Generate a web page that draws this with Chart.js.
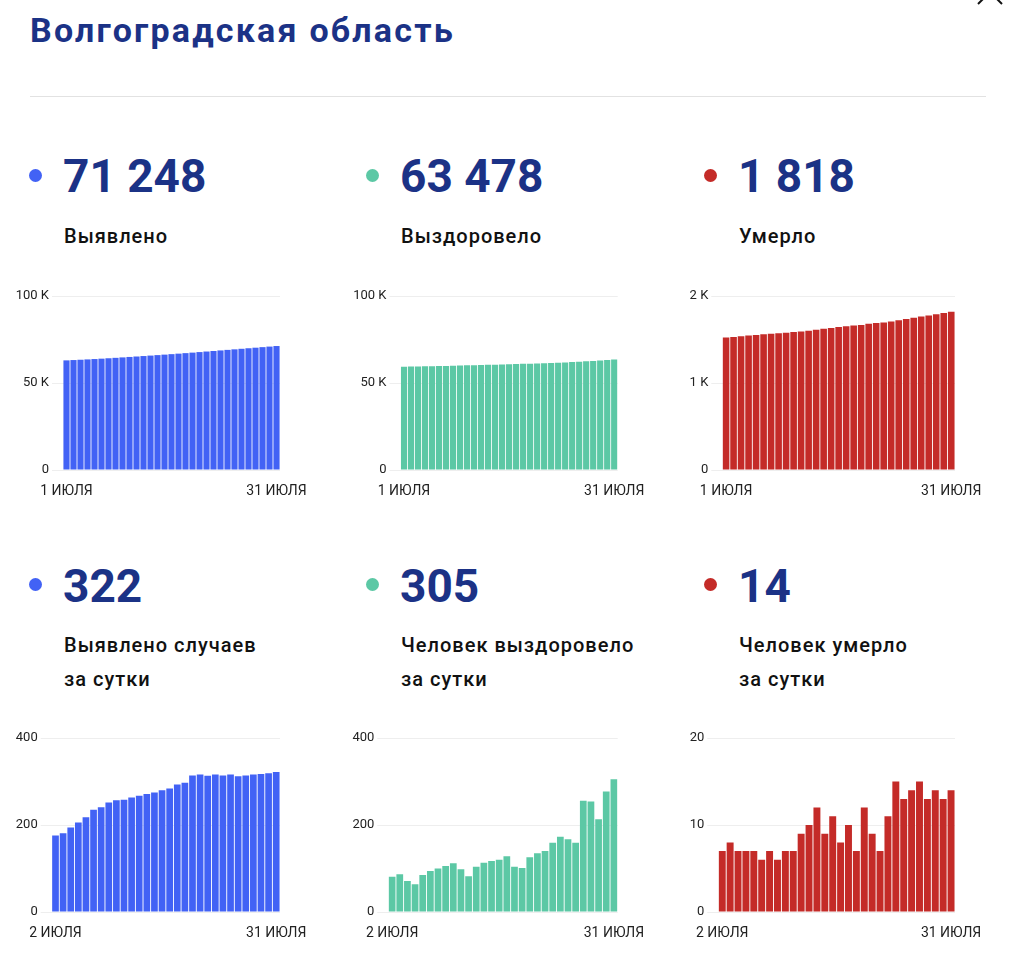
<!DOCTYPE html>
<html lang="ru">
<head>
<meta charset="utf-8">
<title>Волгоградская область</title>
<script src="https://cdn.jsdelivr.net/npm/chart.js@4.4.0/dist/chart.umd.min.js"></script>
<style>
  html, body { margin: 0; padding: 0; background: #fff; }
  body { width: 1023px; height: 959px; position: relative; overflow: hidden; font-family: Roboto, sans-serif; }
  .abs { position: absolute; line-height: 1; white-space: nowrap; }
  .title { left: 30px; top: 13px; font-size: 34px; font-weight: 700; color: #1b3286; letter-spacing: 2.2px; }
  .rule { position: absolute; left: 30px; top: 96px; width: 956px; height: 1px; background: #e2e2e2; }
  .num { font-size: 46px; font-weight: 700; color: #1b3286; }
  .lbl { font-size: 20px; font-weight: 500; color: #111; line-height: 33.7px; letter-spacing: 1px; }
  .dot { position: absolute; width: 13px; height: 13px; border-radius: 50%; }
  canvas { position: absolute; }
</style>
</head>
<body>
<div class="abs title">Волгоградская область</div>
<svg style="position:absolute;left:970px;top:0" width="40" height="10">
  <line x1="8" y1="-20" x2="32" y2="4" stroke="#111" stroke-width="2"/>
  <line x1="32" y1="-20" x2="8" y2="4" stroke="#111" stroke-width="2"/>
</svg>
<div class="rule"></div>

<div class="dot" style="left:29px;top:169px;background:#4262f5"></div>
<div class="abs num" style="left:63px;top:153px">71 248</div>
<div class="abs lbl" style="left:64px;top:220px">Выявлено</div>

<div class="dot" style="left:366px;top:169px;background:#5cc8a5"></div>
<div class="abs num" style="left:400px;top:153px">63 478</div>
<div class="abs lbl" style="left:401px;top:220px">Выздоровело</div>

<div class="dot" style="left:704px;top:169px;background:#c42b28"></div>
<div class="abs num" style="left:738px;top:153px">1 818</div>
<div class="abs lbl" style="left:739px;top:220px">Умерло</div>

<div class="dot" style="left:29px;top:578px;background:#4262f5"></div>
<div class="abs num" style="left:63px;top:563px">322</div>
<div class="abs lbl" style="left:64px;top:629px">Выявлено случаев<br>за сутки</div>

<div class="dot" style="left:366px;top:578px;background:#5cc8a5"></div>
<div class="abs num" style="left:400px;top:563px">305</div>
<div class="abs lbl" style="left:401px;top:629px">Человек выздоровело<br>за сутки</div>

<div class="dot" style="left:704px;top:578px;background:#c42b28"></div>
<div class="abs num" style="left:738px;top:563px">14</div>
<div class="abs lbl" style="left:739px;top:629px">Человек умерло<br>за сутки</div>

<canvas id="cTotal" width="310" height="230" style="left:0px;top:280px"></canvas>
<canvas id="cRecTotal" width="310" height="230" style="left:340px;top:280px"></canvas>
<canvas id="cDeadTotal" width="310" height="230" style="left:680px;top:280px"></canvas>
<canvas id="cDaily" width="310" height="232" style="left:0px;top:720px"></canvas>
<canvas id="cRecDaily" width="310" height="232" style="left:340px;top:720px"></canvas>
<canvas id="cDeadDaily" width="310" height="232" style="left:680px;top:720px"></canvas>

<script>
// дни июля
var daysAll = [1,2,3,4,5,6,7,8,9,10,11,12,13,14,15,16,17,18,19,20,21,22,23,24,25,26,27,28,29,30,31];
var daysFrom2 = [2,3,4,5,6,7,8,9,10,11,12,13,14,15,16,17,18,19,20,21,22,23,24,25,26,27,28,29,30,31];
var monthName = 'ИЮЛЯ';

// накопленные значения
var casesTotal = [63011,63187,63368,63562,63768,63986,64221,64462,64714,64971,65229,65492,65759,66030,66305,66585,
  66869,67162,67459,67773,68089,68402,68718,69032,69348,69660,69974,70290,70607,70926,71248];
var recoveredTotal = [59347,59428,59515,59586,59650,59735,59829,59929,60035,60147,60245,60327,60431,60544,60661,60781,
  60909,61013,61114,61240,61375,61515,61674,61847,62014,62173,62429,62683,62896,63173,63478];
var deathsTotal = [1523,1530,1538,1545,1552,1559,1565,1572,1578,1585,1592,1601,1611,1623,1632,1643,
  1651,1661,1668,1680,1689,1696,1707,1722,1735,1749,1764,1777,1791,1804,1818];

// за сутки
var casesDaily = [176,181,194,206,218,235,241,252,257,258,263,267,271,275,280,284,293,297,314,316,
  313,316,314,316,312,314,316,317,319,322];
var recoveredDaily = [81,87,71,64,85,94,100,106,112,98,82,104,113,117,120,128,104,101,126,135,
  140,159,173,167,159,256,254,213,277,305];
var deathsDaily = [7,8,7,7,7,6,7,6,7,7,9,10,12,9,11,8,10,7,12,9,7,11,15,13,14,15,13,14,13,14];

// подписи оси Y
var ticksBig = ['0', '50 K', '100 K'];
var ticksDeaths = ['0', '1 K', '2 K'];
var ticksDaily = ['0', '200', '400'];
var ticksDeathsDaily = ['0', '10', '20'];

var BLUE = '#4262f5';
var GREEN = '#5cc8a5';
var RED = '#c42b28';

Chart.defaults.font.family = 'Roboto, sans-serif';
Chart.defaults.color = '#222';

function makeChart(id, days, values, color, maxY, tickLabels, yWidth, padTop, padRight) {
  var step = maxY / 2;
  new Chart(document.getElementById(id), {
    type: 'bar',
    data: {
      labels: days,
      datasets: [{
        data: values,
        backgroundColor: color,
        borderWidth: 0,
        barPercentage: 0.88,
        categoryPercentage: 1
      }]
    },
    options: {
      responsive: false,
      animation: false,
      layout: { padding: { top: padTop, right: padRight, left: 0, bottom: 0 } },
      plugins: { legend: { display: false }, tooltip: { enabled: false } },
      scales: {
        x: {
          grid: { display: false, drawTicks: false },
          border: { display: false },
          ticks: {
            autoSkip: false,
            maxRotation: 0,
            padding: 13,
            color: '#222',
            font: { size: 14 },
            callback: function (v, i) {
              if (i === 0 || i === days.length - 1) return days[i] + ' ' + monthName;
              return null;
            }
          },
          afterFit: function (s) { s.height = 40; s.paddingLeft = 0; s.paddingRight = 0; }
        },
        y: {
          min: 0,
          max: maxY,
          grid: { color: '#eeeeee', tickLength: 11, lineWidth: 1 },
          border: { display: false },
          ticks: {
            stepSize: step,
            padding: 3,
            color: '#222',
            font: { size: 13 },
            callback: function (v) { return tickLabels[Math.round(v / step)]; }
          },
          afterFit: function (s) { s.width = yWidth; s.paddingTop = 0; s.paddingBottom = 0; }
        }
      }
    }
  });
}

makeChart('cTotal', daysAll, casesTotal, BLUE, 100000, ticksBig, 63, 16, 30);
makeChart('cRecTotal', daysAll, recoveredTotal, GREEN, 100000, ticksBig, 60.5, 16, 32.3);
makeChart('cDeadTotal', daysAll, deathsTotal, RED, 2000, ticksDeaths, 42.3, 16, 35);
makeChart('cDaily', daysFrom2, casesDaily, BLUE, 400, ticksDaily, 51.7, 18, 30);
makeChart('cRecDaily', daysFrom2, recoveredDaily, GREEN, 400, ticksDaily, 48.3, 18, 32.3);
makeChart('cDeadDaily', daysFrom2, deathsDaily, RED, 20, ticksDeathsDaily, 38.3, 18, 35);
</script>
</body>
</html>
